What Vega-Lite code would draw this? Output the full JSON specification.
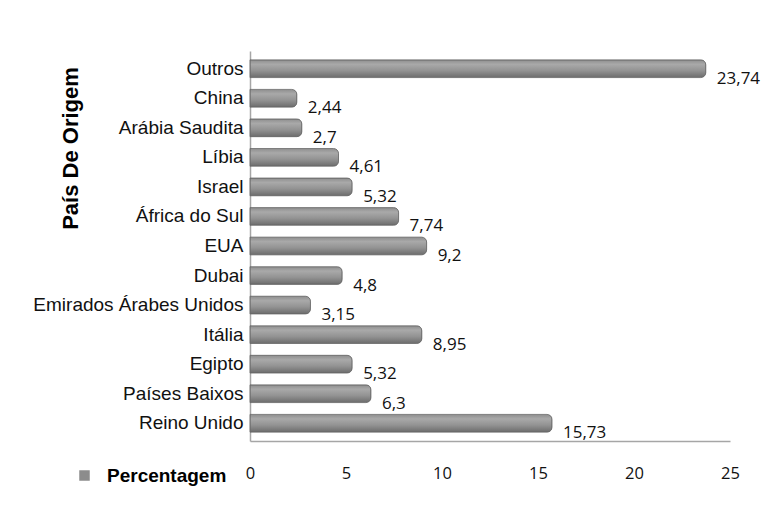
{
  "$schema": "https://vega.github.io/schema/vega-lite/v6.json",
  "autosize": {"type": "none"},
  "width": 480,
  "height": 390,
  "padding": {"left": 250, "top": 51, "right": 45, "bottom": 68},
  "background": "white",
  "data": {
    "values": [
      {"pais": "Outros", "pct": 23.74},
      {"pais": "China", "pct": 2.44},
      {"pais": "Arábia Saudita", "pct": 2.7},
      {"pais": "Líbia", "pct": 4.61},
      {"pais": "Israel", "pct": 5.32},
      {"pais": "África do Sul", "pct": 7.74},
      {"pais": "EUA", "pct": 9.2},
      {"pais": "Dubai", "pct": 4.8},
      {"pais": "Emirados Árabes Unidos", "pct": 3.15},
      {"pais": "Itália", "pct": 8.95},
      {"pais": "Egipto", "pct": 5.32},
      {"pais": "Países Baixos", "pct": 6.3},
      {"pais": "Reino Unido", "pct": 15.73}
    ]
  },
  "encoding": {
    "y": {
      "field": "pais", "type": "nominal", "sort": null,
      "scale": {"paddingInner": 0.4, "paddingOuter": 0.3},
      "axis": {
        "title": "País De Origem",
        "titleFont": "Liberation Sans", "titleFontSize": 22, "titleFontWeight": "bold", "titleColor": "#000",
        "titleX": -180, "titleY": 97, "titleAlign": "center", "titleBaseline": "middle", "titleAngle": -90,
        "labelFont": "Liberation Sans", "labelFontSize": 19, "labelColor": "#111", "labelLimit": 400,
        "labelPadding": 7, "ticks": false, "domainColor": "#a6a6a6", "domainWidth": 1.5
      }
    },
    "x": {
      "field": "pct", "type": "quantitative",
      "scale": {"domain": [0, 25]},
      "axis": {
        "title": null, "values": [0, 5, 10, 15, 20, 25], "format": "d", "labelFlush": false,
        "labelFont": "Open Sans", "labelFontSize": 16.5, "labelColor": "#111",
        "labelPadding": 24, "ticks": false, "grid": false,
        "domainColor": "#a6a6a6", "domainWidth": 1.5
      }
    }
  },
  "layer": [
    {
      "mark": {"type": "bar", "cornerRadiusEnd": 5},
      "encoding": {
        "color": {
          "datum": "Percentagem", "type": "nominal",
          "scale": {"range": ["#8c8c8c"]},
          "legend": {
            "title": null, "orient": "none", "legendX": -175, "legendY": 415,
            "symbolType": "square", "symbolSize": 110, "symbolStrokeWidth": 0,
            "labelFont": "Liberation Sans", "labelFontSize": 19, "labelFontWeight": "bold",
            "labelColor": "#000", "labelOffset": 13
          }
        }
      }
    },
    {
      "mark": {
        "type": "bar", "cornerRadiusEnd": 5, "stroke": "#6a6a6a", "strokeWidth": 0.8,
        "color": {
          "gradient": "linear", "x1": 0, "y1": 0, "x2": 0, "y2": 1,
          "stops": [
            {"offset": 0, "color": "#8e8e8e"},
            {"offset": 0.25, "color": "#a9a9a9"},
            {"offset": 0.6, "color": "#939393"},
            {"offset": 1, "color": "#6c6c6c"}
          ]
        }
      }
    },
    {
      "mark": {"type": "text", "align": "left", "baseline": "middle", "dx": 11, "dy": 10, "font": "Open Sans", "fontSize": 17, "color": "#111"},
      "encoding": {
        "text": {"field": "pct", "type": "quantitative", "format": "~g"}
      }
    }
  ],
  "config": {
    "view": {"stroke": null},
    "locale": {"number": {"decimal": ",", "thousands": ".", "grouping": [3], "currency": ["", " €"]}}
  }
}
